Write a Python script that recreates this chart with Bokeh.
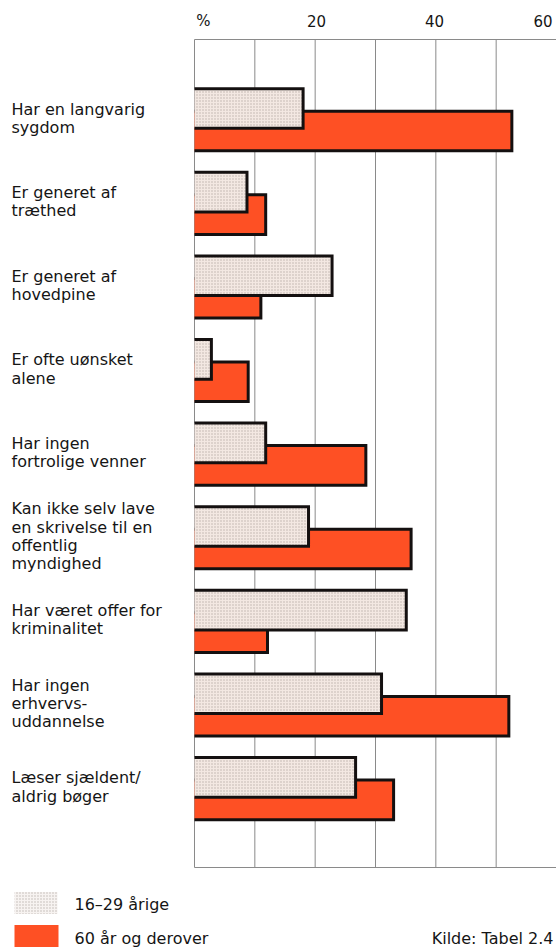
from bokeh.plotting import figure
from bokeh.models import Range1d, ColumnDataSource
from bokeh.core.properties import value
from bokeh.embed import file_html
from bokeh.resources import INLINE

# ---------------- data ----------------
categories = [
    "Har en langvarig\nsygdom",
    "Er generet af\ntræthed",
    "Er generet af\nhovedpine",
    "Er ofte uønsket\nalene",
    "Har ingen\nfortrolige venner",
    "Kan ikke selv lave\nen skrivelse til en\noffentlig\nmyndighed",
    "Har været offer for\nkriminalitet",
    "Har ingen\nerhvervs-\nuddannelse",
    "Læser sjældent/\naldrig bøger",
]
young = [18.0, 8.7, 22.8, 2.8, 11.8, 18.9, 35.1, 31.0, 26.7]
old = [52.6, 11.8, 11.0, 8.9, 28.4, 35.9, 12.1, 52.1, 33.0]
series_names = ["16–29 årige", "60 år og derover"]
tick_values = [0, 20, 40, 60]
tick_labels = ["%", "20", "40", "60"]
grid_values = [0, 10, 20, 30, 40, 50, 60]
source_note = "Kilde: Tabel 2.4"

# ---------------- style / layout ----------------
FONT = "DejaVu Sans"
TXT = "#151515"
RED = "#fe5024"
LIGHT = "#f3e8e2"
EDGE = "#141010"
GRID = "#8a8a8a"
W, H = 556, 952
X0_PX, X60_PX = 194, 556          # pixel position of 0 % and 60 %
SX = (X60_PX - X0_PX) / 60.0
Y_TOP, Y_BOTTOM = -0.96, 8.944     # category units at plot-area top / bottom
TOP_PX, BOT_PX = 39, 867
PX = (BOT_PX - TOP_PX) / (Y_BOTTOM - Y_TOP)
BAR_H = 0.474
OFF = 0.1345


def px_to_x(px):
    return (px - X0_PX) / SX


def px_to_y(py):
    return Y_TOP + (py - TOP_PX) / PX


p = figure(width=W, height=H,
           x_range=Range1d(px_to_x(0), px_to_x(W)),
           y_range=Range1d(px_to_y(H), px_to_y(0)),
           output_backend="svg", toolbar_location=None,
           x_axis_location=None, y_axis_location=None, min_border=0)
for g in p.grid:
    g.visible = False
p.outline_line_color = None
p.background_fill_color = "white"
p.border_fill_color = "white"

# grid lines and frame lines
p.segment(x0=grid_values, x1=grid_values, y0=[Y_TOP] * len(grid_values),
          y1=[Y_BOTTOM] * len(grid_values), line_color=GRID, line_width=1)
p.segment(x0=[0, 0], x1=[60, 60], y0=[Y_TOP, Y_BOTTOM], y1=[Y_TOP, Y_BOTTOM],
          line_color=GRID, line_width=1)


def bars(vals, shift, fill, hatch):
    ys = [i + shift for i in range(len(vals))]
    src = ColumnDataSource(dict(y=ys, right=vals, left=[0] * len(vals)))
    kw = dict(hatch_pattern="dot", hatch_color="#8d817c", hatch_alpha=0.55,
              hatch_scale=3, hatch_weight=1) if hatch else {}
    p.hbar(y="y", left="left", right="right", height=BAR_H, source=src,
           fill_color=fill, line_color=None, **kw)
    xs = [[0, v, v, 0] for v in vals]
    yy = [[y - BAR_H / 2, y - BAR_H / 2, y + BAR_H / 2, y + BAR_H / 2] for y in ys]
    p.multi_line(xs=xs, ys=yy, line_color=EDGE, line_width=3, line_join="miter")


bars(old, OFF, RED, False)
bars(young, -OFF, LIGHT, True)

TEXT_KW = dict(text_baseline="middle", text_font=value(FONT), text_color=TXT)

# top tick labels
p.text(x=tick_values, y=[px_to_y(20.5)] * len(tick_values), text=tick_labels,
       x_offset=[9, 1.3, -1.3, -13.5], text_align="center",
       text_font_size=value("15px"), **TEXT_KW)

# category labels (multi-line, left aligned); y = centre of capital letters
L = 18.2
lx, ly, lt = [], [], []
for i, cat in enumerate(categories):
    lines = cat.split("\n")
    n = len(lines)
    center_px = TOP_PX + (i - Y_TOP) * PX
    first = center_px - (n - 1) * L / 2 - 1.5
    for k, line in enumerate(lines):
        lx.append(px_to_x(11))
        ly.append(px_to_y(first + k * L))
        lt.append(line)
p.text(x=lx, y=ly, text=lt, text_align="left", text_font_size=value("16px"), **TEXT_KW)

# legend
p.quad(left=[px_to_x(14)], right=[px_to_x(57)], top=[px_to_y(891.5)],
       bottom=[px_to_y(913.5)], fill_color="#f7f3f1", line_color=None,
       hatch_pattern="dot", hatch_color="#8d817c", hatch_alpha=0.55,
       hatch_scale=3, hatch_weight=1)
p.quad(left=[px_to_x(14)], right=[px_to_x(58)], top=[px_to_y(924.5)],
       bottom=[px_to_y(946.5)], fill_color=RED, line_color=None)
p.text(x=[px_to_x(74)] * 2, y=[px_to_y(904), px_to_y(938)], text=series_names,
       text_align="left", text_font_size=value("16px"), **TEXT_KW)

# source note
p.text(x=[px_to_x(553)], y=[px_to_y(938)], text=[source_note],
       text_align="right", text_font_size=value("16px"), **TEXT_KW)

open("out.html", "w").write(file_html(p, INLINE))
